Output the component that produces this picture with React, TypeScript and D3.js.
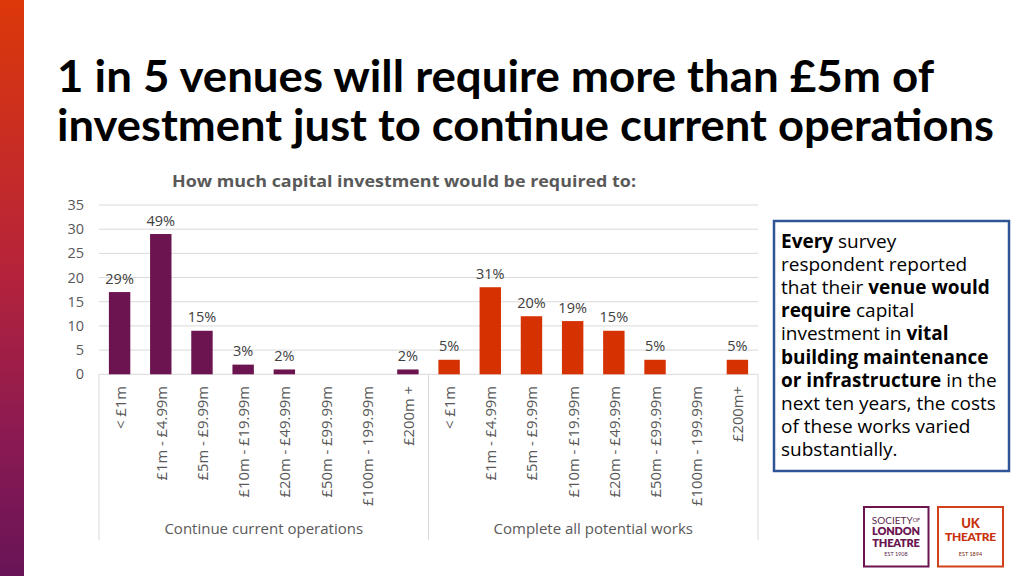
import React from "react";
import * as d3 from "d3";

const title1 = "1 in 5 venues will require more than £5m of";
const title2 = "investment just to continue current operations";
const chartTitle = "How much capital investment would be required to:";

const continueCategories = ["< £1m", "£1m - £4.99m", "£5m - £9.99m", "£10m - £19.99m", "£20m - £49.99m", "£50m - £99.99m", "£100m - 199.99m", "£200m +"];
const completeCategories = ["< £1m", "£1m - £4.99m", "£5m - £9.99m", "£10m - £19.99m", "£20m - £49.99m", "£50m - £99.99m", "£100m - 199.99m", "£200m+"];
const continueValues = [17, 29, 9, 2, 1, 0, 0, 1];
const continueLabels = ["29%", "49%", "15%", "3%", "2%", "", "", "2%"];
const completeValues = [3, 18, 12, 11, 9, 3, 0, 3];
const completeLabels = ["5%", "31%", "20%", "19%", "15%", "5%", "", "5%"];
const groupNames = ["Continue current operations", "Complete all potential works"];
const yTicks = [0, 5, 10, 15, 20, 25, 30, 35];

const PURPLE = "#6b1450";
const RED = "#d63100";
const GREY = "#595959";

type Seg = { text: string; bold?: boolean };
const boxLines: Seg[][] = [
  [{ text: "Every", bold: true }, { text: " survey" }],
  [{ text: "respondent reported" }],
  [{ text: "that their " }, { text: "venue would", bold: true }],
  [{ text: "require", bold: true }, { text: " capital" }],
  [{ text: "investment in " }, { text: "vital", bold: true }],
  [{ text: "building maintenance", bold: true }],
  [{ text: "or infrastructure", bold: true }, { text: " in the" }],
  [{ text: "next ten years, the costs" }],
  [{ text: "of these works varied" }],
  [{ text: "substantially." }],
];

export default function App() {
  const left = 99, right = 758, baseY = 374.3, topY = 205;
  const groups = [
    { name: groupNames[0], cats: continueCategories, vals: continueValues, labels: continueLabels, color: PURPLE, key: "c" },
    { name: groupNames[1], cats: completeCategories, vals: completeValues, labels: completeLabels, color: RED, key: "p" },
  ];
  const keys = groups.flatMap((g) => g.cats.map((_, i) => g.key + i));
  const x = d3.scaleBand<string>().domain(keys).range([left, right]).paddingInner(0.48).paddingOuter(0.24);
  const y = d3.scaleLinear().domain([0, 35]).range([baseY, topY]);
  const font = "'Open Sans', sans-serif";
  const sepX = [left, (left + right) / 2, right];

  return (
    <svg width={1024} height={576} style={{ position: "absolute", left: 0, top: 0, background: "#fff" }} fontFamily={font}>
      <defs>
        <linearGradient id="sideGrad" x1="0" y1="0" x2="0" y2="1">
          <stop offset="0" stopColor="#dc380a" />
          <stop offset="0.45" stopColor="#b82438" />
          <stop offset="0.75" stopColor="#8c1a52" />
          <stop offset="1" stopColor="#681457" />
        </linearGradient>
      </defs>
      <rect x={0} y={0} width={1024} height={576} fill="#fff" />
      <rect x={0} y={0} width={24} height={576} fill="url(#sideGrad)" />

      <text x={57} y={92} fontFamily="Lato, sans-serif" fontWeight={700} fontSize={44} fill="#000" textLength={877} lengthAdjust="spacingAndGlyphs">{title1}</text>
      <text x={57} y={141} fontFamily="Lato, sans-serif" fontWeight={700} fontSize={44} fill="#000" textLength={937} lengthAdjust="spacingAndGlyphs">{title2}</text>

      <text x={172} y={187} fontWeight={700} fontSize={16.5} fill={GREY} textLength={464} lengthAdjust="spacingAndGlyphs">{chartTitle}</text>

      {yTicks.map((t) => (
        <g key={t}>
          <line x1={left} x2={right} y1={y(t)} y2={y(t)} stroke="#d9d9d9" strokeWidth={1} />
          <text x={84} y={y(t)} dy="0.35em" textAnchor="end" fontSize={14.5} fill={GREY}>{t}</text>
        </g>
      ))}

      {sepX.map((sx, i) => (
        <line key={i} x1={sx} x2={sx} y1={baseY} y2={540} stroke="#d9d9d9" strokeWidth={1} />
      ))}

      {groups.map((g, gi) => (
        <g key={g.key}>
          {g.vals.map((v, i) => {
            const k = g.key + i;
            const bx = x(k)!;
            const cx = bx + x.bandwidth() / 2;
            return (
              <g key={k}>
                {v > 0 && <rect x={bx} y={y(v)} width={x.bandwidth()} height={baseY - y(v)} fill={g.color} />}
                {g.labels[i] && (
                  <text x={cx} y={y(v) - 8.5} textAnchor="middle" fontSize={14.5} fill="#404040">{g.labels[i]}</text>
                )}
                <text transform={`translate(${cx},386) rotate(-90)`} textAnchor="end" dominantBaseline="central" fontSize={14.8} fill={GREY}>{g.cats[i]}</text>
              </g>
            );
          })}
          <text x={(sepX[gi] + sepX[gi + 1]) / 2} y={534} textAnchor="middle" fontSize={15} fill={GREY}>{g.name}</text>
        </g>
      ))}

      <rect x={774} y={221} width={235} height={250} fill="#fff" stroke="#2f5597" strokeWidth={2.5} />
      {boxLines.map((line, i) => (
        <text key={i} x={781} y={248 + i * 23.1} fontSize={19} fill="#000">
          {line.map((s, j) => (
            <tspan key={j} fontWeight={s.bold ? 700 : 400}>{s.text}</tspan>
          ))}
        </text>
      ))}

      <rect x={864} y={507} width={64.5} height={59.5} fill="#fff" stroke={PURPLE} strokeWidth={2} />
      <text x={896} y={524} textAnchor="middle" fontSize={10} fill="#5b2a50" fontFamily="Lato, sans-serif">SOCIETY<tspan fontSize={5.5} dy={-2}>OF</tspan></text>
      <text x={896} y={535} textAnchor="middle" fontSize={11} fontWeight={800} fill={PURPLE} fontFamily="Lato, sans-serif" letterSpacing={-0.2}>LONDON</text>
      <text x={896} y={546.5} textAnchor="middle" fontSize={11} fontWeight={800} fill={PURPLE} fontFamily="Lato, sans-serif" letterSpacing={-0.2}>THEATRE</text>
      <text x={896} y={556} textAnchor="middle" fontSize={5.5} fill="#5b2a50" fontFamily="Lato, sans-serif">EST 1908</text>

      <rect x={938} y={507} width={65} height={59.5} fill="#fff" stroke="#d2401a" strokeWidth={2} />
      <text x={970.5} y={527.5} textAnchor="middle" fontSize={13} fontWeight={900} fill="#c8300c" fontFamily="Lato, sans-serif">UK</text>
      <text x={970.5} y={541} textAnchor="middle" fontSize={12} fontWeight={900} fill="#c8300c" fontFamily="Lato, sans-serif" letterSpacing={-0.3}>THEATRE</text>
      <text x={970.5} y={556} textAnchor="middle" fontSize={5.5} fill="#7a2a10" fontFamily="Lato, sans-serif">EST 1894</text>
    </svg>
  );
}
